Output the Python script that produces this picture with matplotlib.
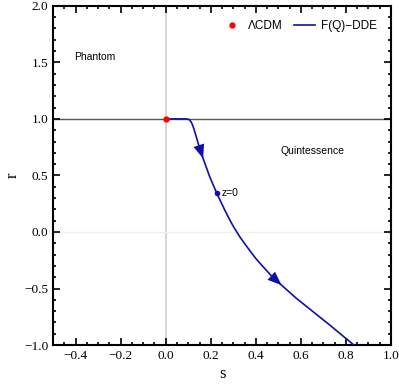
import numpy as np
import matplotlib
matplotlib.use("Agg")
import matplotlib.pyplot as plt
from matplotlib.ticker import MultipleLocator

# trajectory in the s-r plane
s_vals = [0.0, 0.05, 0.09, 0.10, 0.105, 0.112, 0.118, 0.124, 0.132, 0.144, 0.166, 0.195,
          0.226, 0.262, 0.284, 0.30, 0.33, 0.358, 0.40, 0.432, 0.47, 0.514, 0.58, 0.654,
          0.728, 0.817, 0.835]
r_vals = [1.0, 1.0, 1.0, 0.997, 0.992, 0.975, 0.952, 0.918, 0.866, 0.785, 0.65, 0.49,
          0.345, 0.194, 0.108, 0.05, -0.046, -0.124, -0.235, -0.307, -0.39, -0.47, -0.587, -0.705,
          -0.823, -0.97, -1.0]

lcdm = (0.0, 1.0)
z0 = (0.226, 0.345)
arrow_idx = [10, 21]  # arrow tips along the curve

blue = '#1010a8'

fig = plt.figure(figsize=(3.99, 3.89), dpi=100)
ax = fig.add_axes([0.133, 0.113, 0.847, 0.872])

ax.axvline(0, color='#d0d0d0', lw=1.2, zorder=1)
ax.axhline(1, color='#555555', lw=1.0, zorder=1)
ax.axhline(0, color='#f0f0f0', lw=1.0, zorder=1)

ax.plot(s_vals, r_vals, color=blue, lw=1.2, label='F(Q)\u2212DDE', zorder=3)
for i in arrow_idx:
    ax.annotate('', xy=(s_vals[i], r_vals[i]), xytext=(s_vals[i - 1], r_vals[i - 1]),
                arrowprops=dict(arrowstyle='-|>,head_length=1.0,head_width=0.4',
                                color=blue, lw=0, shrinkA=0, shrinkB=0), zorder=4)

ax.plot(*lcdm, 'o', color='red', ms=3.5, zorder=5, label='\u039bCDM', ls='none')
ax.plot(*z0, 'o', color=blue, ms=3, zorder=5)
ax.text(z0[0] + 0.022, z0[1], 'z=0', fontsize=7.5, family='Liberation Sans', va='center')

ax.text(-0.408, 1.55, 'Phantom', fontsize=7.5, family='Liberation Sans', va='center')
ax.text(0.65, 0.72, 'Quintessence', fontsize=7.5, family='Liberation Sans', va='center', ha='center')

ax.set_xlim(-0.5, 1.0)
ax.set_ylim(-1.0, 2.0)
ax.xaxis.set_major_locator(MultipleLocator(0.2))
ax.xaxis.set_minor_locator(MultipleLocator(0.05))
ax.yaxis.set_major_locator(MultipleLocator(0.5))
ax.yaxis.set_minor_locator(MultipleLocator(0.1))
ax.tick_params(which='both', direction='in', top=True, right=True, width=1.2)
ax.tick_params(which='major', length=5, labelsize=9.5)
ax.tick_params(which='minor', length=2.5)
for lab in ax.get_xticklabels() + ax.get_yticklabels():
    lab.set_family('Liberation Serif')
for sp in ax.spines.values():
    sp.set_linewidth(1.5)

ax.set_xlabel('s', fontsize=12, family='Liberation Serif', labelpad=3)
ax.set_ylabel('r', fontsize=12, family='Liberation Serif', labelpad=2, rotation=90)

h, l = ax.get_legend_handles_labels()
ax.legend(h[::-1], l[::-1], loc='upper right', ncol=2, frameon=False,
          prop={'family': 'Liberation Sans', 'size': 8.5}, handlelength=1.8,
          columnspacing=0.9, handletextpad=0.5, borderaxespad=0.8)

fig.savefig('out.png', dpi=100)
